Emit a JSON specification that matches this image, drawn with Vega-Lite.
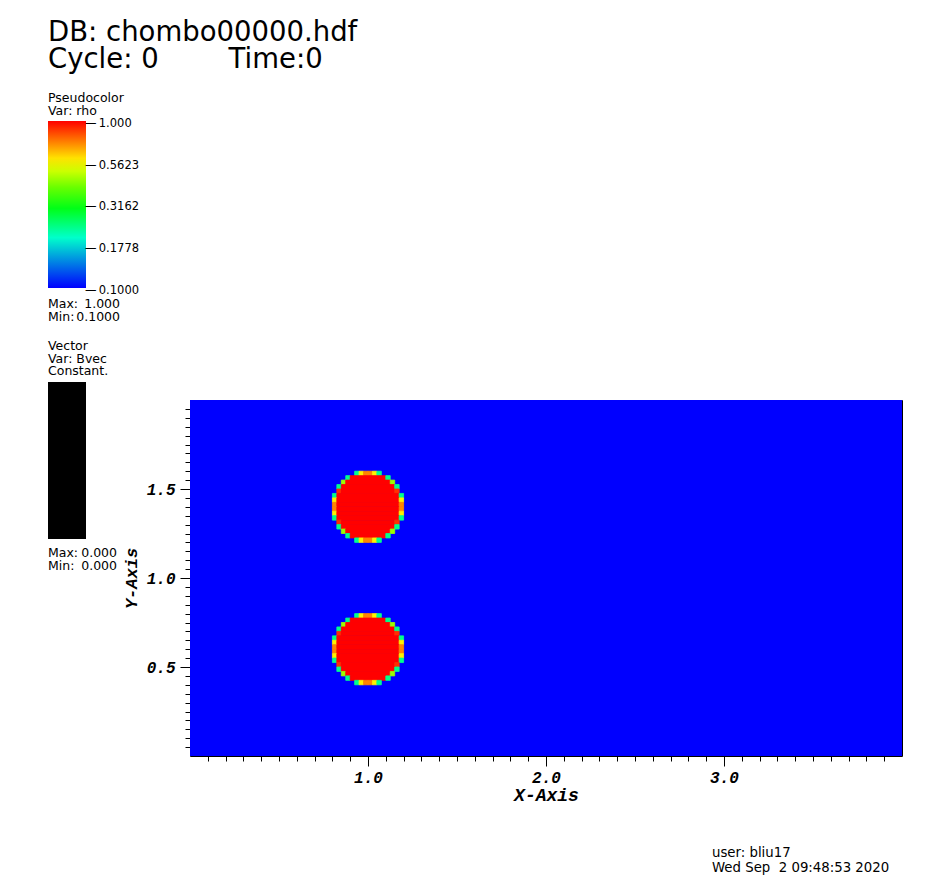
{
  "$schema": "https://vega.github.io/schema/vega-lite/v6.json",
  "width": 712,
  "height": 356,
  "autosize": {"type": "none"},
  "padding": {"left": 190, "top": 400, "right": 49, "bottom": 135},
  "background": "white",
  "title": {
    "text": ["DB: chombo00000.hdf", "Cycle: 0\u00a0\u00a0\u00a0\u00a0\u00a0\u00a0\u00a0\u00a0Time:0"],
    "anchor": "start", "frame": "group", "font": "DejaVu Sans", "fontSize": 27.5,
    "fontWeight": "normal", "color": "black", "lineHeight": 27, "dx": -142, "dy": -19, "offset": 0
  },
  "config": {"view": {"stroke": "black", "strokeWidth": 1}},
  "datasets": {
    "bg": [{"x": 0, "x2": 4, "y": 0, "y2": 2, "v": 0.1}],
    "cells": [
      {"x": 0.925, "x2": 0.95, "y": 1.575, "y2": 1.6, "v": 0.23},
      {"x": 0.95, "x2": 0.975, "y": 1.575, "y2": 1.6, "v": 0.58},
      {"x": 0.975, "x2": 1.0, "y": 1.575, "y2": 1.6, "v": 0.74},
      {"x": 1.0, "x2": 1.025, "y": 1.575, "y2": 1.6, "v": 0.74},
      {"x": 1.025, "x2": 1.05, "y": 1.575, "y2": 1.6, "v": 0.58},
      {"x": 1.05, "x2": 1.075, "y": 1.575, "y2": 1.6, "v": 0.23},
      {"x": 0.875, "x2": 0.9, "y": 1.55, "y2": 1.575, "v": 0.23},
      {"x": 0.9, "x2": 1.1, "y": 1.55, "y2": 1.575, "v": 1},
      {"x": 1.1, "x2": 1.125, "y": 1.55, "y2": 1.575, "v": 0.23},
      {"x": 0.85, "x2": 0.875, "y": 1.525, "y2": 1.55, "v": 0.45},
      {"x": 0.875, "x2": 1.125, "y": 1.525, "y2": 1.55, "v": 1},
      {"x": 1.125, "x2": 1.15, "y": 1.525, "y2": 1.55, "v": 0.45},
      {"x": 0.825, "x2": 0.85, "y": 1.5, "y2": 1.525, "v": 0.23},
      {"x": 0.85, "x2": 1.15, "y": 1.5, "y2": 1.525, "v": 1},
      {"x": 1.15, "x2": 1.175, "y": 1.5, "y2": 1.525, "v": 0.23},
      {"x": 0.825, "x2": 0.85, "y": 1.475, "y2": 1.5, "v": 0.9},
      {"x": 0.85, "x2": 1.15, "y": 1.475, "y2": 1.5, "v": 1},
      {"x": 1.15, "x2": 1.175, "y": 1.475, "y2": 1.5, "v": 0.9},
      {"x": 0.8, "x2": 0.825, "y": 1.45, "y2": 1.475, "v": 0.23},
      {"x": 0.825, "x2": 1.175, "y": 1.45, "y2": 1.475, "v": 1},
      {"x": 1.175, "x2": 1.2, "y": 1.45, "y2": 1.475, "v": 0.23},
      {"x": 0.8, "x2": 0.825, "y": 1.425, "y2": 1.45, "v": 0.58},
      {"x": 0.825, "x2": 1.175, "y": 1.425, "y2": 1.45, "v": 1},
      {"x": 1.175, "x2": 1.2, "y": 1.425, "y2": 1.45, "v": 0.58},
      {"x": 0.8, "x2": 0.825, "y": 1.4, "y2": 1.425, "v": 0.74},
      {"x": 0.825, "x2": 1.175, "y": 1.4, "y2": 1.425, "v": 1},
      {"x": 1.175, "x2": 1.2, "y": 1.4, "y2": 1.425, "v": 0.74},
      {"x": 0.8, "x2": 0.825, "y": 1.375, "y2": 1.4, "v": 0.74},
      {"x": 0.825, "x2": 1.175, "y": 1.375, "y2": 1.4, "v": 1},
      {"x": 1.175, "x2": 1.2, "y": 1.375, "y2": 1.4, "v": 0.74},
      {"x": 0.8, "x2": 0.825, "y": 1.35, "y2": 1.375, "v": 0.58},
      {"x": 0.825, "x2": 1.175, "y": 1.35, "y2": 1.375, "v": 1},
      {"x": 1.175, "x2": 1.2, "y": 1.35, "y2": 1.375, "v": 0.58},
      {"x": 0.8, "x2": 0.825, "y": 1.325, "y2": 1.35, "v": 0.23},
      {"x": 0.825, "x2": 1.175, "y": 1.325, "y2": 1.35, "v": 1},
      {"x": 1.175, "x2": 1.2, "y": 1.325, "y2": 1.35, "v": 0.23},
      {"x": 0.825, "x2": 0.85, "y": 1.3, "y2": 1.325, "v": 0.9},
      {"x": 0.85, "x2": 1.15, "y": 1.3, "y2": 1.325, "v": 1},
      {"x": 1.15, "x2": 1.175, "y": 1.3, "y2": 1.325, "v": 0.9},
      {"x": 0.825, "x2": 0.85, "y": 1.275, "y2": 1.3, "v": 0.23},
      {"x": 0.85, "x2": 1.15, "y": 1.275, "y2": 1.3, "v": 1},
      {"x": 1.15, "x2": 1.175, "y": 1.275, "y2": 1.3, "v": 0.23},
      {"x": 0.85, "x2": 0.875, "y": 1.25, "y2": 1.275, "v": 0.45},
      {"x": 0.875, "x2": 1.125, "y": 1.25, "y2": 1.275, "v": 1},
      {"x": 1.125, "x2": 1.15, "y": 1.25, "y2": 1.275, "v": 0.45},
      {"x": 0.875, "x2": 0.9, "y": 1.225, "y2": 1.25, "v": 0.23},
      {"x": 0.9, "x2": 1.1, "y": 1.225, "y2": 1.25, "v": 1},
      {"x": 1.1, "x2": 1.125, "y": 1.225, "y2": 1.25, "v": 0.23},
      {"x": 0.925, "x2": 0.95, "y": 1.2, "y2": 1.225, "v": 0.23},
      {"x": 0.95, "x2": 0.975, "y": 1.2, "y2": 1.225, "v": 0.58},
      {"x": 0.975, "x2": 1.0, "y": 1.2, "y2": 1.225, "v": 0.74},
      {"x": 1.0, "x2": 1.025, "y": 1.2, "y2": 1.225, "v": 0.74},
      {"x": 1.025, "x2": 1.05, "y": 1.2, "y2": 1.225, "v": 0.58},
      {"x": 1.05, "x2": 1.075, "y": 1.2, "y2": 1.225, "v": 0.23},

      {"x": 0.925, "x2": 0.95, "y": 0.775, "y2": 0.8, "v": 0.23},
      {"x": 0.95, "x2": 0.975, "y": 0.775, "y2": 0.8, "v": 0.58},
      {"x": 0.975, "x2": 1.0, "y": 0.775, "y2": 0.8, "v": 0.74},
      {"x": 1.0, "x2": 1.025, "y": 0.775, "y2": 0.8, "v": 0.74},
      {"x": 1.025, "x2": 1.05, "y": 0.775, "y2": 0.8, "v": 0.58},
      {"x": 1.05, "x2": 1.075, "y": 0.775, "y2": 0.8, "v": 0.23},
      {"x": 0.875, "x2": 0.9, "y": 0.75, "y2": 0.775, "v": 0.23},
      {"x": 0.9, "x2": 1.1, "y": 0.75, "y2": 0.775, "v": 1},
      {"x": 1.1, "x2": 1.125, "y": 0.75, "y2": 0.775, "v": 0.23},
      {"x": 0.85, "x2": 0.875, "y": 0.725, "y2": 0.75, "v": 0.45},
      {"x": 0.875, "x2": 1.125, "y": 0.725, "y2": 0.75, "v": 1},
      {"x": 1.125, "x2": 1.15, "y": 0.725, "y2": 0.75, "v": 0.45},
      {"x": 0.825, "x2": 0.85, "y": 0.7, "y2": 0.725, "v": 0.23},
      {"x": 0.85, "x2": 1.15, "y": 0.7, "y2": 0.725, "v": 1},
      {"x": 1.15, "x2": 1.175, "y": 0.7, "y2": 0.725, "v": 0.23},
      {"x": 0.825, "x2": 0.85, "y": 0.675, "y2": 0.7, "v": 0.9},
      {"x": 0.85, "x2": 1.15, "y": 0.675, "y2": 0.7, "v": 1},
      {"x": 1.15, "x2": 1.175, "y": 0.675, "y2": 0.7, "v": 0.9},
      {"x": 0.8, "x2": 0.825, "y": 0.65, "y2": 0.675, "v": 0.23},
      {"x": 0.825, "x2": 1.175, "y": 0.65, "y2": 0.675, "v": 1},
      {"x": 1.175, "x2": 1.2, "y": 0.65, "y2": 0.675, "v": 0.23},
      {"x": 0.8, "x2": 0.825, "y": 0.625, "y2": 0.65, "v": 0.58},
      {"x": 0.825, "x2": 1.175, "y": 0.625, "y2": 0.65, "v": 1},
      {"x": 1.175, "x2": 1.2, "y": 0.625, "y2": 0.65, "v": 0.58},
      {"x": 0.8, "x2": 0.825, "y": 0.6, "y2": 0.625, "v": 0.74},
      {"x": 0.825, "x2": 1.175, "y": 0.6, "y2": 0.625, "v": 1},
      {"x": 1.175, "x2": 1.2, "y": 0.6, "y2": 0.625, "v": 0.74},
      {"x": 0.8, "x2": 0.825, "y": 0.575, "y2": 0.6, "v": 0.74},
      {"x": 0.825, "x2": 1.175, "y": 0.575, "y2": 0.6, "v": 1},
      {"x": 1.175, "x2": 1.2, "y": 0.575, "y2": 0.6, "v": 0.74},
      {"x": 0.8, "x2": 0.825, "y": 0.55, "y2": 0.575, "v": 0.58},
      {"x": 0.825, "x2": 1.175, "y": 0.55, "y2": 0.575, "v": 1},
      {"x": 1.175, "x2": 1.2, "y": 0.55, "y2": 0.575, "v": 0.58},
      {"x": 0.8, "x2": 0.825, "y": 0.525, "y2": 0.55, "v": 0.23},
      {"x": 0.825, "x2": 1.175, "y": 0.525, "y2": 0.55, "v": 1},
      {"x": 1.175, "x2": 1.2, "y": 0.525, "y2": 0.55, "v": 0.23},
      {"x": 0.825, "x2": 0.85, "y": 0.5, "y2": 0.525, "v": 0.9},
      {"x": 0.85, "x2": 1.15, "y": 0.5, "y2": 0.525, "v": 1},
      {"x": 1.15, "x2": 1.175, "y": 0.5, "y2": 0.525, "v": 0.9},
      {"x": 0.825, "x2": 0.85, "y": 0.475, "y2": 0.5, "v": 0.23},
      {"x": 0.85, "x2": 1.15, "y": 0.475, "y2": 0.5, "v": 1},
      {"x": 1.15, "x2": 1.175, "y": 0.475, "y2": 0.5, "v": 0.23},
      {"x": 0.85, "x2": 0.875, "y": 0.45, "y2": 0.475, "v": 0.45},
      {"x": 0.875, "x2": 1.125, "y": 0.45, "y2": 0.475, "v": 1},
      {"x": 1.125, "x2": 1.15, "y": 0.45, "y2": 0.475, "v": 0.45},
      {"x": 0.875, "x2": 0.9, "y": 0.425, "y2": 0.45, "v": 0.23},
      {"x": 0.9, "x2": 1.1, "y": 0.425, "y2": 0.45, "v": 1},
      {"x": 1.1, "x2": 1.125, "y": 0.425, "y2": 0.45, "v": 0.23},
      {"x": 0.925, "x2": 0.95, "y": 0.4, "y2": 0.425, "v": 0.23},
      {"x": 0.95, "x2": 0.975, "y": 0.4, "y2": 0.425, "v": 0.58},
      {"x": 0.975, "x2": 1.0, "y": 0.4, "y2": 0.425, "v": 0.74},
      {"x": 1.0, "x2": 1.025, "y": 0.4, "y2": 0.425, "v": 0.74},
      {"x": 1.025, "x2": 1.05, "y": 0.4, "y2": 0.425, "v": 0.58},
      {"x": 1.05, "x2": 1.075, "y": 0.4, "y2": 0.425, "v": 0.23}
    ]
  },
  "layer": [
    {
      "data": {"name": "bg"},
      "mark": {"type": "rect"},
      "encoding": {
        "x": {
          "field": "x", "type": "quantitative",
          "scale": {"domain": [0, 4], "nice": false, "zero": false},
          "axis": {
            "values": [0.1,0.2,0.3,0.4,0.5,0.6,0.7,0.8,0.9,1,1.1,1.2,1.3,1.4,1.5,1.6,1.7,1.8,1.9,2,2.1,2.2,2.3,2.4,2.5,2.6,2.7,2.8,2.9,3,3.1,3.2,3.3,3.4,3.5,3.6,3.7,3.8,3.9],
            "tickCount": 200,
            "labelExpr": "abs(datum.value-round(datum.value))<0.001 ? format(datum.value,'.1f') : ''",
            "tickSize": {"condition": {"test": "abs(datum.value-round(datum.value))<0.001", "value": 10}, "value": 5},
            "tickColor": "black", "tickWidth": 1, "domain": false, "grid": false,
            "labelFont": "Liberation Mono", "labelFontSize": 16, "labelFontStyle": "italic", "labelFontWeight": "bold",
            "labelColor": "black", "labelPadding": 3, "labelOverlap": false, "labelFlush": false, "labelBound": false,
            "titleFont": "Liberation Mono", "titleFontSize": 18, "titleFontStyle": "italic", "titleFontWeight": "bold",
            "titleColor": "black", "titlePadding": 1
          },
          "title": "X-Axis"
        },
        "x2": {"field": "x2"},
        "y": {
          "field": "y", "type": "quantitative",
          "scale": {"domain": [0, 2], "nice": false, "zero": false},
          "axis": {
            "values": [0.05,0.1,0.15,0.2,0.25,0.3,0.35,0.4,0.45,0.5,0.55,0.6,0.65,0.7,0.75,0.8,0.85,0.9,0.95,1,1.05,1.1,1.15,1.2,1.25,1.3,1.35,1.4,1.45,1.5,1.55,1.6,1.65,1.7,1.75,1.8,1.85,1.9,1.95],
            "tickCount": 200,
            "labelExpr": "abs(datum.value*2-round(datum.value*2))<0.001 ? format(datum.value,'.1f') : ''",
            "tickSize": {"condition": {"test": "abs(datum.value*2-round(datum.value*2))<0.001", "value": 10}, "value": 5},
            "tickColor": "black", "tickWidth": 1, "domain": false, "grid": false,
            "labelFont": "Liberation Mono", "labelFontSize": 16, "labelFontStyle": "italic", "labelFontWeight": "bold",
            "labelColor": "black", "labelPadding": 5, "labelOverlap": false, "labelFlush": false, "labelBound": false,
            "titleFont": "Liberation Mono", "titleFontSize": 17, "titleFontStyle": "italic", "titleFontWeight": "bold",
            "titleColor": "black", "titlePadding": 6
          },
          "title": "Y-Axis"
        },
        "y2": {"field": "y2"},
        "fill": {
          "field": "v", "type": "quantitative",
          "scale": {"type": "log", "domain": [0.1, 0.177828, 0.316228, 0.562341, 1], "range": ["#0000ff", "#00ffff", "#00ff00", "#ffff00", "#ff0000"], "interpolate": "rgb"},
          "legend": {
            "type": "gradient",
            "orient": "none", "legendX": -142, "legendY": -308, "direction": "vertical", "padding": 0,
            "title": ["Pseudocolor", "Var: rho"], "titleFont": "DejaVu Sans", "titleFontSize": 12.5, "titleFontWeight": "normal",
            "titleColor": "black", "titleLineHeight": 12.5, "titlePadding": 4, "titleAnchor": "start",
            "gradientLength": 167, "gradientThickness": 38, "gradientStrokeWidth": 0,
            "values": [1, 0.562341, 0.316228, 0.177828, 0.1],
            "labelExpr": "'\u2014\u2009' + (datum.value > 0.99 ? '1.000' : format(datum.value, '.4f'))",
            "labelFont": "DejaVu Sans", "labelFontSize": 11.5, "labelColor": "black", "labelOffset": -1,
            "labelBaseline": "middle", "labelOverlap": false,
            "encode": {"labels": {"update": {"baseline": {"value": "middle"}, "dy": {"value": 3}}}}
          }
        }
      }
    },
    {
      "data": {"name": "cells"},
      "mark": {"type": "rect", "strokeWidth": 0.8},
      "encoding": {
        "x": {"field": "x", "type": "quantitative", "title": "X-Axis"},
        "x2": {"field": "x2"},
        "y": {"field": "y", "type": "quantitative", "title": "Y-Axis"},
        "y2": {"field": "y2"},
        "fill": {"field": "v", "type": "quantitative", "legend": null},
        "stroke": {
          "field": "v", "type": "quantitative", "legend": null,
          "scale": {"type": "log", "domain": [0.1, 0.1778279, 0.3162278, 0.5623413, 1], "range": ["#0000ff", "#00ffff", "#00ff00", "#ffff00", "#ff0000"], "interpolate": "rgb"}
        }
      }
    },
    {
      "data": {"values": [{"Bvec": 0}]},
      "mark": {"type": "point", "size": 0, "strokeWidth": 0, "filled": true, "opacity": 1},
      "encoding": {
        "x": {"datum": 2, "title": "X-Axis"},
        "y": {"datum": 1, "title": "Y-Axis"},
        "color": {
          "field": "Bvec", "type": "quantitative",
          "scale": {"domain": [0, 1], "range": ["#000000", "#000000"]},
          "legend": {
            "type": "gradient",
            "orient": "none", "legendX": -142, "legendY": -60, "direction": "vertical", "padding": 0,
            "title": ["Vector", "Var: Bvec", "Constant."], "titleFont": "DejaVu Sans", "titleFontSize": 12.5, "titleFontWeight": "normal",
            "titleColor": "black", "titleLineHeight": 12.7, "titlePadding": 4, "titleAnchor": "start",
            "gradientLength": 157, "gradientThickness": 38, "gradientStrokeWidth": 0, "gradientOpacity": 1,
            "values": [0, 1], "labelExpr": "''"
          }
        }
      }
    },
    {
      "data": {"values": [{}]},
      "mark": {"type": "text", "text": ["Max:", "Min:"], "font": "DejaVu Sans", "fontSize": 12.5, "lineHeight": 13, "align": "left", "baseline": "alphabetic", "color": "black"},
      "encoding": {"x": {"datum": -0.79775, "title": "X-Axis"}, "y": {"datum": 2.515, "title": "Y-Axis"}}
    },
    {
      "data": {"values": [{}]},
      "mark": {"type": "text", "text": ["1.000", "0.1000"], "font": "DejaVu Sans", "fontSize": 12.5, "lineHeight": 13, "align": "right", "baseline": "alphabetic", "color": "black"},
      "encoding": {"x": {"datum": -0.39326, "title": "X-Axis"}, "y": {"datum": 2.515, "title": "Y-Axis"}}
    },
    {
      "data": {"values": [{}]},
      "mark": {"type": "text", "text": ["Max:", "Min:"], "font": "DejaVu Sans", "fontSize": 12.5, "lineHeight": 13, "align": "left", "baseline": "alphabetic", "color": "black"},
      "encoding": {"x": {"datum": -0.79775, "title": "X-Axis"}, "y": {"datum": 1.118, "title": "Y-Axis"}}
    },
    {
      "data": {"values": [{}]},
      "mark": {"type": "text", "text": ["0.000", "0.000"], "font": "DejaVu Sans", "fontSize": 12.5, "lineHeight": 13, "align": "right", "baseline": "alphabetic", "color": "black"},
      "encoding": {"x": {"datum": -0.41011, "title": "X-Axis"}, "y": {"datum": 1.118, "title": "Y-Axis"}}
    },
    {
      "data": {"values": [{}]},
      "mark": {"type": "text", "text": ["user: bliu17", "Wed Sep\u00a0\u00a02 09:48:53 2020"], "font": "DejaVu Sans", "fontSize": 13.3, "lineHeight": 15, "align": "left", "baseline": "alphabetic", "color": "black"},
      "encoding": {"x": {"datum": 2.93258, "title": "X-Axis"}, "y": {"datum": -0.5674, "title": "Y-Axis"}}
    }
  ]
}
